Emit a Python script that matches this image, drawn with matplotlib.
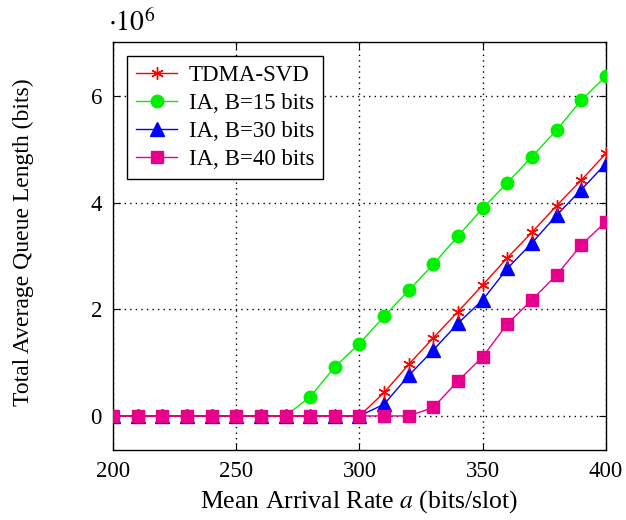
import matplotlib
matplotlib.use("Agg")
import matplotlib.pyplot as plt
import numpy as np

plt.rcParams['font.family'] = ['Liberation Serif', 'DejaVu Serif']
plt.rcParams['mathtext.fontset'] = 'stix'

# Mean arrival rate (bits/slot)
rate = list(range(200, 401, 10))

# Total average queue length, in units of 1e6 bits
tdma_svd = [0, 0, 0, 0, 0, 0, 0, 0, 0, 0, 0,
            0.44, 0.97, 1.47, 1.96, 2.46, 2.97, 3.45, 3.95, 4.43, 4.93]
ia_b15 = [0, 0, 0, 0, 0, 0, 0, 0, 0.36, 0.92, 1.36,
          1.87, 2.36, 2.85, 3.38, 3.90, 4.38, 4.87, 5.37, 5.93, 6.38]
ia_b30 = [0, 0, 0, 0, 0, 0, 0, 0, 0, 0, 0,
          0.22, 0.76, 1.24, 1.74, 2.18, 2.77, 3.25, 3.77, 4.25, 4.74]
ia_b40 = [0, 0, 0, 0, 0, 0, 0, 0, 0, 0, 0,
          0, 0, 0.16, 0.66, 1.11, 1.73, 2.18, 2.65, 3.21, 3.65]

labels = ["TDMA-SVD", "IA, B=15 bits", "IA, B=30 bits", "IA, B=40 bits"]
xticks = [200, 250, 300, 350, 400]
yticks = [0, 2, 4, 6]
scale = 1e6

fig = plt.figure(figsize=(6.26, 5.2), dpi=100)
ax = fig.add_axes([0.1805, 0.1346, 0.7875, 0.7844])

x = np.array(rate)
ax.plot(x, np.array(tdma_svd) * scale, color='#ff0000', lw=1.0, marker=(6, 2, 0),
        ms=9, mew=1.0, label=labels[0], zorder=5)
ax.plot(x, np.array(ia_b15) * scale, color='#00f000', lw=1.0, marker='o',
        ms=9, mec='#00f000', label=labels[1], zorder=4)
ax.plot(x, np.array(ia_b30) * scale, color='#0000ff', lw=1.0, marker='^',
        ms=10, label=labels[2], zorder=4)
ax.plot(x, np.array(ia_b40) * scale, color='#e6008c', lw=1.0, marker='s',
        ms=8, label=labels[3], zorder=6)

ax.set_xlim(200, 400)
ax.set_ylim(-0.64 * scale, 7.02 * scale)
ax.set_xticks(xticks)
ax.set_xticklabels([str(t) for t in xticks])
ax.set_yticks([t * scale for t in yticks])
ax.set_yticklabels([str(t) for t in yticks])

ax.grid(True, color='black', linestyle=(0, (1, 3)), linewidth=1.0)
ax.set_axisbelow(True)
ax.tick_params(direction='in', top=True, right=True, labelsize=16.5,
               length=5, width=0.8, pad=8)
for s in ax.spines.values():
    s.set_linewidth(1.0)

ax.set_xlabel(r"Mean Arrival Rate $a$ (bits/slot)", fontsize=18.5, labelpad=4)
ax.set_ylabel("Total Average Queue Length (bits)", fontsize=17)
ax.yaxis.set_label_coords(-0.16, 0.51)
fig.text(0.172, 0.955, r"$\cdot10^{6}$", fontsize=20, ha='left', va='center')

leg = ax.legend(loc='upper left', fontsize=16.5, fancybox=False, framealpha=1,
                edgecolor='black', borderaxespad=0.6, handlelength=1.8,
                handletextpad=0.5, borderpad=0.4, labelspacing=0.3)
leg.get_frame().set_linewidth(1.0)

fig.savefig("out.png", dpi=100)
